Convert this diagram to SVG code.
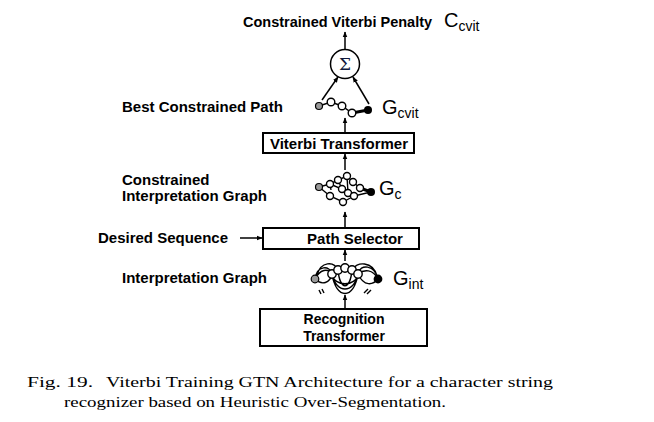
<svg xmlns="http://www.w3.org/2000/svg" width="654" height="422" viewBox="0 0 654 422">
<style>
.lbl{font-family:"Liberation Sans",Arial,sans-serif;font-weight:bold;font-size:15px;fill:#000}
.ttl{font-size:14.5px}
.rt{font-size:14px}
.box{fill:#fff;stroke:#000;stroke-width:2}
.g{font-family:"Liberation Sans",Arial,sans-serif;font-size:20px;fill:#000}
.sub{font-size:14px}
.cap{font-family:"Liberation Serif","Times New Roman",serif;font-size:15.5px;fill:#000}
.edge{stroke:#000;stroke-width:1.5;fill:none}
.n{fill:#fff;stroke:#000;stroke-width:1.4}
.gl{stroke:#000;stroke-width:1.4;fill:none}
</style>
<defs>
<marker id="ah" viewBox="0 0 10 10" refX="9" refY="5" markerWidth="6" markerHeight="6" orient="auto-start-reverse" markerUnits="userSpaceOnUse">
<path d="M0,1 L10,5 L0,9 z" fill="#000"/>
</marker>
</defs>
<rect width="654" height="422" fill="#fff"/>

<g id="connectors">
<line class="edge" x1="345" y1="49" x2="345" y2="32" marker-end="url(#ah)"/>
<line class="edge" x1="322" y1="100" x2="338" y2="77" marker-end="url(#ah)"/>
<line class="edge" x1="369" y1="104" x2="353" y2="77" marker-end="url(#ah)"/>
<line class="edge" x1="345" y1="133" x2="345" y2="118" marker-end="url(#ah)"/>
<line class="edge" x1="345" y1="170" x2="345" y2="154" marker-end="url(#ah)"/>
<line class="edge" x1="345" y1="227" x2="345" y2="212" marker-end="url(#ah)"/>
<line class="edge" x1="240" y1="238" x2="262" y2="238" marker-end="url(#ah)"/>
<line class="edge" x1="345" y1="261" x2="345" y2="250" marker-end="url(#ah)"/>
<line class="edge" x1="345" y1="308" x2="345" y2="295" marker-end="url(#ah)"/>
</g>

<g id="penalty">
<text class="lbl ttl" x="243" y="27">Constrained Viterbi Penalty</text>
<text class="g" x="444" y="27">C<tspan class="sub" dy="4">cvit</tspan></text>
</g>

<g id="sum">
<circle cx="345" cy="64" r="14.5" fill="#fff" stroke="#000" stroke-width="1.5"/>
<text x="345" y="70" text-anchor="middle" font-family="'DejaVu Serif',serif" font-size="17" fill="#10183a">Σ</text>
</g>

<g id="best-path">
<text class="lbl" x="122" y="112">Best Constrained Path</text>
<path class="gl" d="M319,106 L331,102 L342,106 L352,113 L368,110" />
<line x1="352" y1="113" x2="368" y2="110" stroke="#000" stroke-width="3"/>
<circle cx="319" cy="106" r="3.5" fill="#999" stroke="#000" stroke-width="1.2"/>
<circle class="n" cx="331" cy="102" r="3.8"/>
<circle class="n" cx="342" cy="106" r="3.8"/>
<circle class="n" cx="352" cy="113" r="3.8"/>
<circle cx="368" cy="110" r="4" fill="#000"/>
<text class="g" x="382" y="114">G<tspan class="sub" dy="4">cvit</tspan></text>
</g>

<g id="viterbi-transformer">
<rect class="box" x="263" y="133" width="151" height="20"/>
<text class="lbl" x="339" y="148.5" text-anchor="middle">Viterbi Transformer</text>
</g>

<g id="constrained-graph">
<text class="lbl" x="122" y="185">Constrained</text>
<text class="lbl" x="122" y="201">Interpretation Graph</text>
<path class="gl" d="M319,187 L330,184 L338,180 L347,176 L353,182 L360,188 L371,192 M330,184 L342,189 L348,193 L354,196 L371,192 M338,180 L342,189 M319,187 L330,196 L343,202 L354,196 M360,188 L371,192 M347,176 L348,193 M330,184 L331,190"/>
<line x1="360" y1="188" x2="371" y2="192" stroke="#000" stroke-width="3"/>
<circle cx="319" cy="187" r="3.5" fill="#999" stroke="#000" stroke-width="1.2"/>
<circle class="n" cx="330" cy="184" r="3.5"/>
<circle class="n" cx="338" cy="180" r="3.5"/>
<circle class="n" cx="347" cy="176" r="3.5"/>
<circle class="n" cx="353" cy="182" r="3.5"/>
<circle class="n" cx="360" cy="188" r="3.5"/>
<circle class="n" cx="342" cy="189" r="3.5"/>
<circle class="n" cx="348" cy="193" r="3.5"/>
<circle class="n" cx="354" cy="196" r="3.5"/>
<circle class="n" cx="330" cy="196" r="3.5"/>
<circle class="n" cx="343" cy="202" r="3.5"/>
<circle cx="371" cy="192" r="4" fill="#000"/>
<text class="g" x="379" y="195">G<tspan class="sub" dy="4">c</tspan></text>
</g>

<g id="path-selector">
<text class="lbl" x="98" y="243">Desired Sequence</text>
<rect class="box" x="263" y="228" width="156" height="21"/>
<text class="lbl" x="355" y="243.5" text-anchor="middle">Path Selector</text>
</g>

<g id="interp-graph">
<text class="lbl" x="122" y="283">Interpretation Graph</text>
<path class="gl" d="M315,279 C317,265 330,265 332,274 M315,279 C320,269 328,268 332,274 M315,279 C322,286 330,283 332,274 M317,275 C321,261 334,261 338,270 M332,274 C336,294 354,294 358,274 M332,274 C336,300 354,300 358,274 M338,270 C340,291 350,291 352,270 M332,274 C334,287 356,287 358,274 M358,274 C360,263 375,265 378,279 M352,270 C356,261 373,261 377,276 M358,274 C364,287 373,285 378,279 M358,274 C364,269 373,269 378,279"/>
<path class="gl" d="M319,290 L321,294 M322,289 L324,293 M364,293 L368,289 M367,294 L371,290"/>
<circle cx="315" cy="279" r="3.8" fill="#999" stroke="#000" stroke-width="1.2"/>
<circle class="n" cx="332" cy="274" r="4.2"/>
<circle class="n" cx="338" cy="270" r="4.2"/>
<circle class="n" cx="345" cy="268" r="4.2"/>
<circle class="n" cx="352" cy="270" r="4.2"/>
<circle class="n" cx="358" cy="274" r="4.2"/>
<circle cx="378" cy="279" r="4.4" fill="#000"/>
<text class="g" x="393" y="285">G<tspan class="sub" dy="4">int</tspan></text>
</g>

<g id="recognition-transformer">
<rect class="box" x="260" y="309" width="167" height="37"/>
<text class="lbl rt" x="344" y="324" text-anchor="middle">Recognition</text>
<text class="lbl rt" x="344" y="340.5" text-anchor="middle">Transformer</text>
</g>

<g id="caption">
<text class="cap" x="27" y="387" textLength="66" lengthAdjust="spacingAndGlyphs">Fig. 19.</text>
<text class="cap" x="106" y="387" textLength="447" lengthAdjust="spacingAndGlyphs">Viterbi Training GTN Architecture for a character string</text>
<text class="cap" x="64" y="407" textLength="382" lengthAdjust="spacingAndGlyphs">recognizer based on Heuristic Over-Segmentation.</text>
</g>
</svg>
